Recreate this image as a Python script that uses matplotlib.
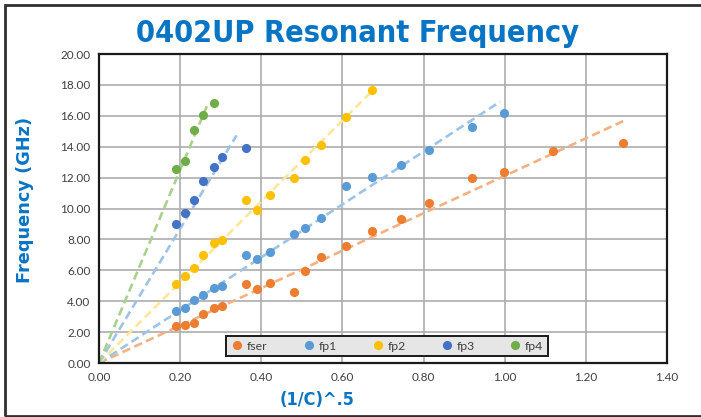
import numpy as np
import matplotlib
matplotlib.use("Agg")
import matplotlib.pyplot as plt
from matplotlib.patches import Rectangle
from matplotlib import font_manager

# ---- data ----
x_fser = [0.190, 0.211, 0.233, 0.256, 0.283, 0.302, 0.363, 0.390, 0.421, 0.481, 0.507, 0.547,
          0.609, 0.674, 0.744, 0.814, 0.920, 0.999, 1.120, 1.292]
y_fser = [2.39, 2.45, 2.60, 3.14, 3.53, 3.68, 5.10, 4.77, 5.20, 4.60, 5.95, 6.86,
          7.55, 8.54, 9.33, 10.37, 11.96, 12.34, 13.70, 14.21]

x_fp1 = [0.190, 0.211, 0.233, 0.256, 0.283, 0.302, 0.363, 0.390, 0.421, 0.481, 0.507, 0.547,
         0.609, 0.674, 0.744, 0.814, 0.920, 0.999]
y_fp1 = [3.37, 3.59, 4.06, 4.43, 4.88, 4.97, 6.97, 6.75, 7.18, 8.32, 8.73, 9.38,
         11.46, 12.02, 12.82, 13.80, 15.29, 16.19]

x_fp2 = [0.190, 0.211, 0.233, 0.256, 0.283, 0.302, 0.363, 0.390, 0.421, 0.481, 0.507, 0.547,
         0.609, 0.674]
y_fp2 = [5.10, 5.61, 6.17, 6.97, 7.76, 7.94, 10.52, 9.91, 10.88, 11.96, 13.16, 14.13,
         15.90, 17.66]

x_fp3 = [0.190, 0.211, 0.233, 0.256, 0.283, 0.302, 0.363]
y_fp3 = [8.97, 9.70, 10.52, 11.76, 12.71, 13.31, 13.92]

x_fp4 = [0.190, 0.211, 0.233, 0.256, 0.283]
y_fp4 = [12.56, 13.05, 15.10, 16.05, 16.84]

series_names = ["fser", "fp1", "fp2", "fp3", "fp4"]
trend_end = [1.292, 0.989, 0.674, 0.339, 0.266]

x_ticks = [0.0, 0.2, 0.4, 0.6, 0.8, 1.0, 1.2, 1.4]
y_ticks = [0, 2, 4, 6, 8, 10, 12, 14, 16, 18, 20]

# ---- style ----
colors = ["#ED7D31", "#5B9BD5", "#FFC000", "#4472C4", "#70AD47"]
trend_colors = ["#F4B183", "#9DC3E6", "#FFE699", "#9DC3E6", "#A9D18E"]
blue = "#0874C4"
tick_font = ["Lato", "DejaVu Sans"]

# find a condensed bold font if one is installed
cond_prop = None
for f in font_manager.fontManager.ttflist:
    n = f.fname.lower()
    if ("condensed" in n or "narrow" in n) and "bold" in n and "oblique" not in n and "italic" not in n:
        cond_prop = font_manager.FontProperties(fname=f.fname)
        break

W, H = 701, 417
fig = plt.figure(figsize=(W / 100, H / 100), dpi=100)
fig.patch.set_facecolor("white")

# outer frame (top, left, bottom visible)
fig.patches.append(Rectangle((5 / W, 1.2 / H), 1.0, (411 / H), transform=fig.transFigure,
                             fill=False, edgecolor="#303030", linewidth=2.0, zorder=0))

ax = fig.add_axes([99 / W, (H - 363) / H, (667 - 99) / W, (363 - 54) / H])

xs = [x_fser, x_fp1, x_fp2, x_fp3, x_fp4]
ys = [y_fser, y_fp1, y_fp2, y_fp3, y_fp4]

for x, y, name, c, tc, xe in zip(xs, ys, series_names, colors, trend_colors, trend_end):
    x = np.asarray(x)
    y = np.asarray(y)
    slope = np.sum(x * y) / np.sum(x * x)
    tx = np.array([0.0, xe])
    ax.plot(tx, slope * tx, color=tc, lw=1.9, linestyle=(0, (3.2, 1.7)),
            zorder=2, solid_capstyle="butt")
    ax.plot(x, y, "o", color=c, markersize=6.6, markeredgewidth=0, zorder=3, label=name)

ax.set_xlim(0, 1.4)
ax.set_ylim(0, 20)
ax.set_xticks(x_ticks)
ax.set_yticks(y_ticks)
ax.set_xticklabels([f"{v:.2f}" for v in x_ticks])
ax.set_yticklabels([f"{v:.2f}" for v in y_ticks])
ax.tick_params(length=0, labelsize=8.5, labelcolor="#404040")
ax.tick_params(axis="y", pad=6)
ax.tick_params(axis="x", pad=6.5)
for lab in ax.get_xticklabels() + ax.get_yticklabels():
    lab.set_family(tick_font)

ax.grid(True, color="#ADADAD", lw=1.2)
ax.set_axisbelow(True)
for s in ax.spines.values():
    s.set_color("#1A1A1A")
    s.set_linewidth(1.6)

leg = ax.legend(loc="lower left", bbox_to_anchor=(0.223, 0.0227, 0.567, 0.0734),
                mode="expand", ncol=5, borderaxespad=0, fancybox=False,
                frameon=True, handletextpad=0.2, handlelength=1.2,
                prop={"family": tick_font, "size": 8.8}, borderpad=0.35,
                markerscale=1.0)
leg.get_frame().set_facecolor("#E7E6E6")
leg.get_frame().set_edgecolor("#1A1A1A")
leg.get_frame().set_linewidth(1.4)
leg.get_frame().set_alpha(1.0)
for t in leg.get_texts():
    t.set_color("#404040")

# title & axis labels
if cond_prop is not None:
    tkw = dict(fontproperties=cond_prop)
    title_size, xl_size = 22, 13
else:
    tkw = dict(family=["Roboto", "DejaVu Sans"], fontweight="bold")
    title_size, xl_size = 20, 12
t1 = fig.text(358 / W, 1 - 42 / H, "0402UP Resonant Frequency", ha="center", va="baseline",
              color=blue, **tkw)
t1.set_fontsize(title_size)
t2 = fig.text(317 / W, 1 - 405 / H, "(1/C)^.5", ha="center", va="baseline",
              color=blue, **tkw)
t2.set_fontsize(xl_size)
fig.text(25 / W, 1 - 200 / H, "Frequency (GHz)", ha="center", va="center", rotation=90,
         fontsize=12.8, fontweight="bold", color=blue, family=["DejaVu Sans"])

fig.savefig("out.png", dpi=100)
